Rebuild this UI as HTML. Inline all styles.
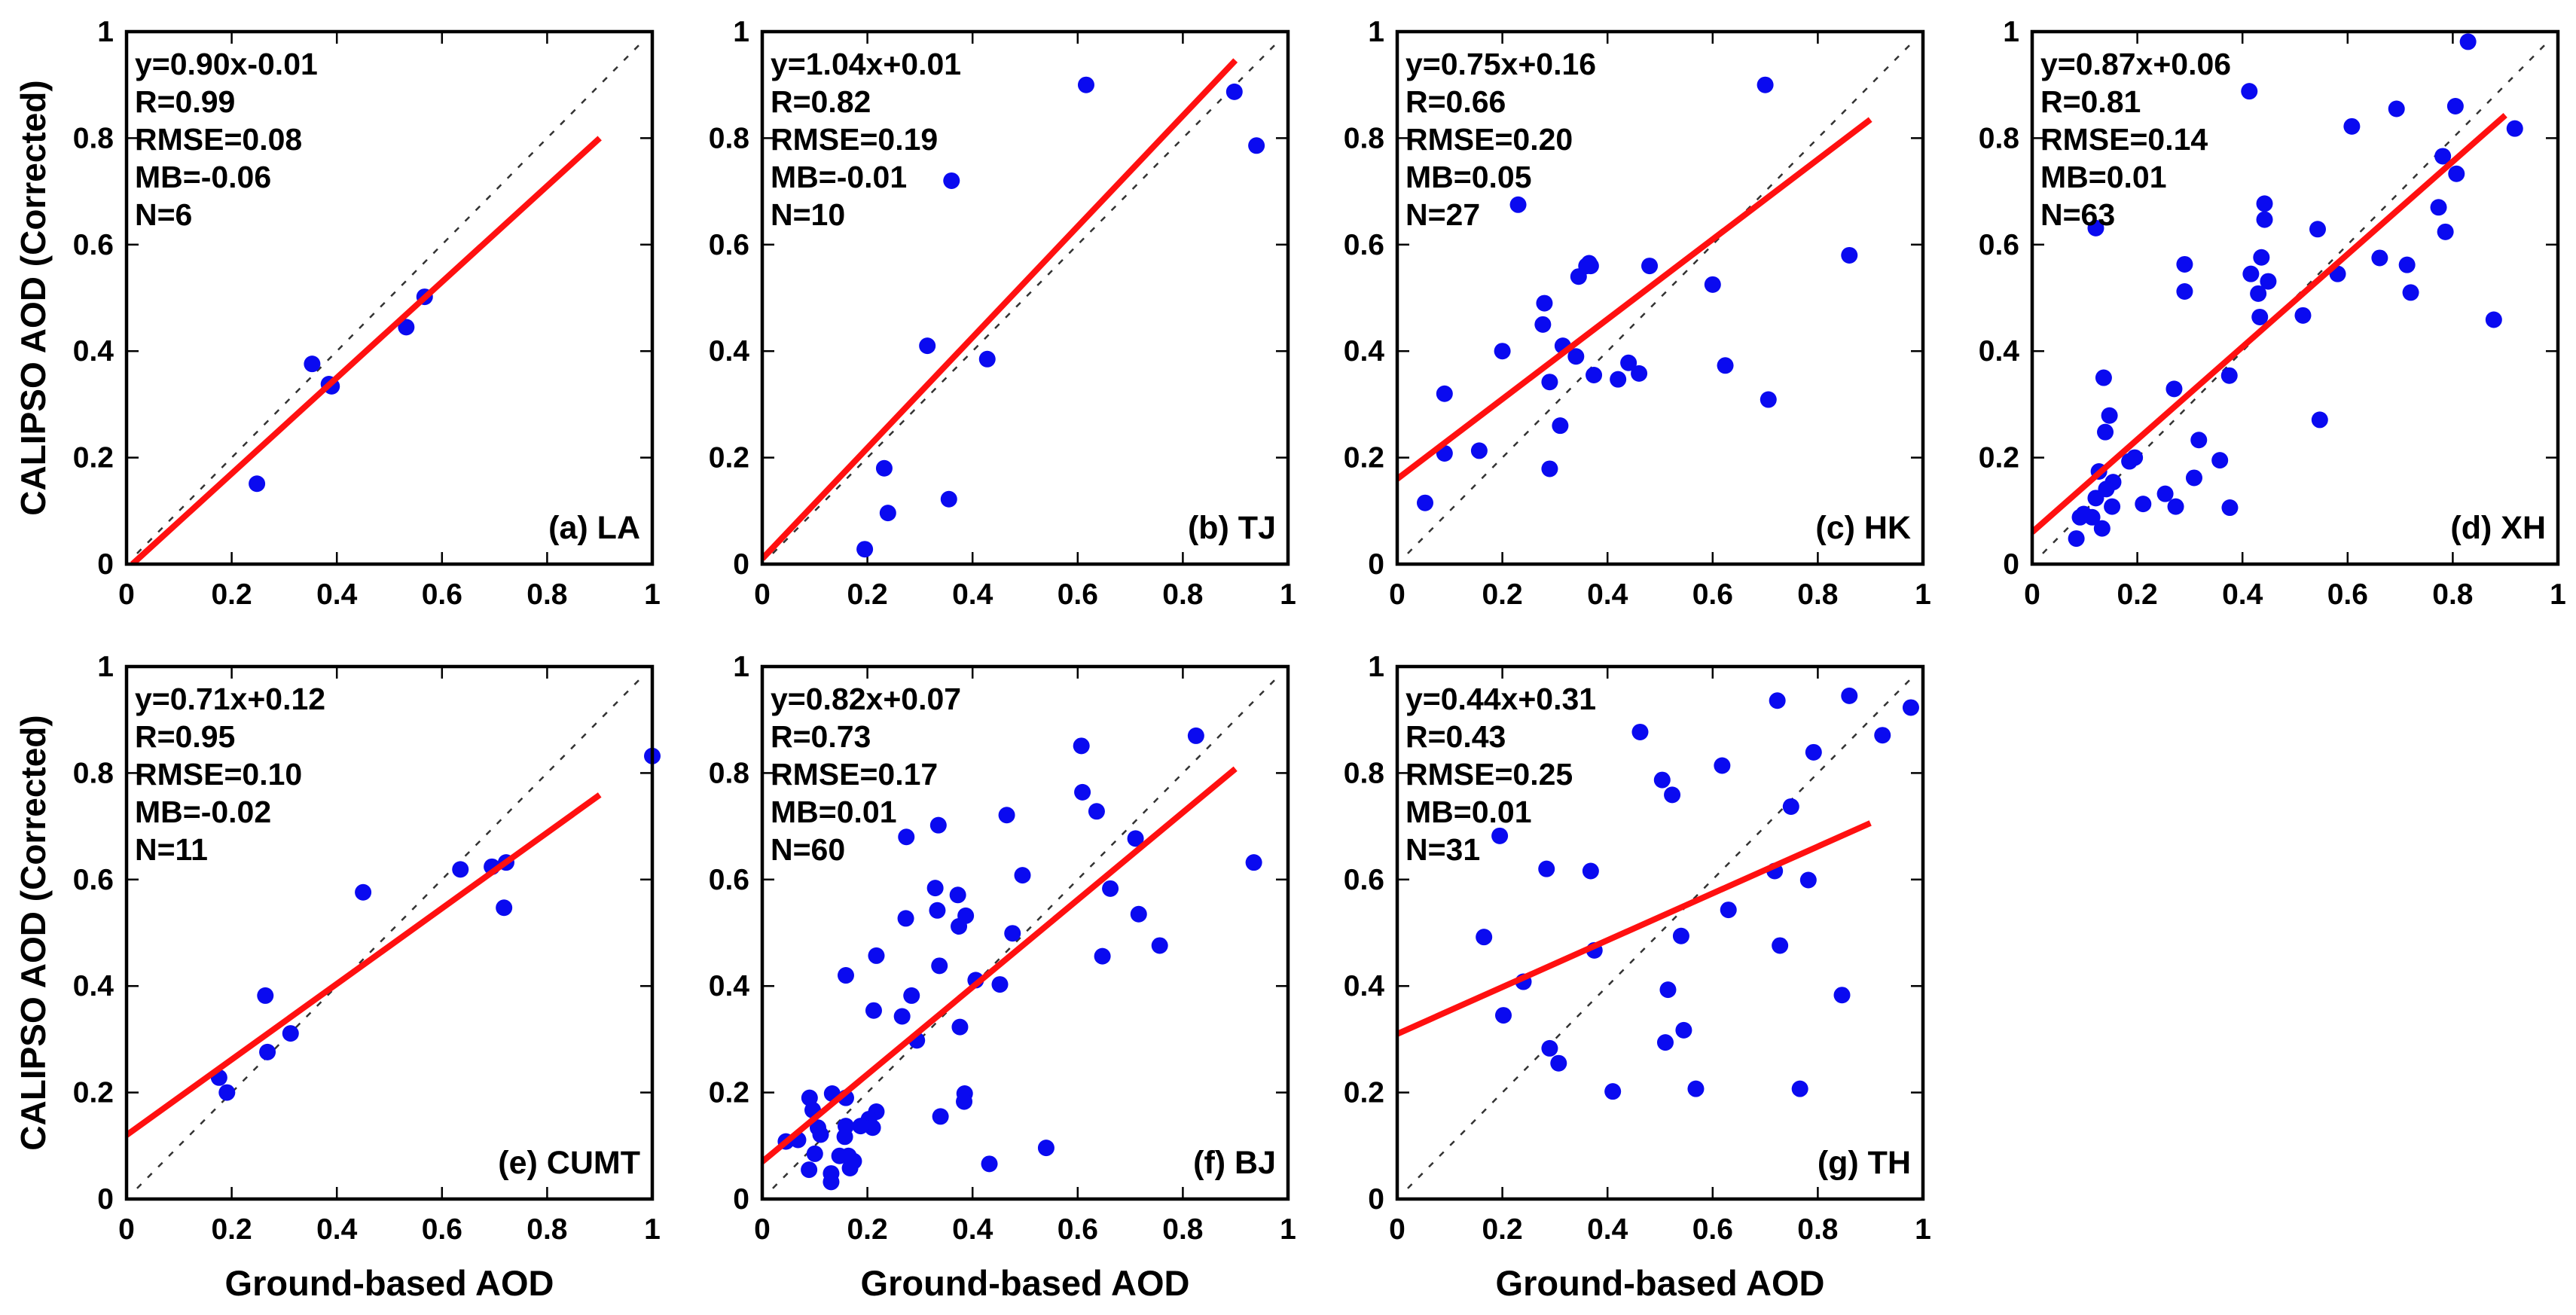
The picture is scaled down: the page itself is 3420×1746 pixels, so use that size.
<!DOCTYPE html>
<html><head><meta charset="utf-8">
<style>
html,body{margin:0;padding:0;background:#fff;}
svg{display:block;font-family:"Liberation Sans",Arial,sans-serif;font-weight:bold;}
</style></head>
<body>
<svg id="fig" width="3420" height="1746" viewBox="0 0 3420 1746" xmlns="http://www.w3.org/2000/svg"></svg>
<script>
// ---- data ----
const panelIds = ["a","b","c","d","e","f","g"];
const panelTitles = ["(a) LA","(b) TJ","(c) HK","(d) XH","(e) CUMT","(f) BJ","(g) TH"];
const fitSlopes = [0.90,1.04,0.75,0.87,0.71,0.82,0.44];
const fitIntercepts = [-0.01,0.01,0.16,0.06,0.12,0.07,0.31];
const statLines = [
 ["y=0.90x-0.01","R=0.99","RMSE=0.08","MB=-0.06","N=6"],
 ["y=1.04x+0.01","R=0.82","RMSE=0.19","MB=-0.01","N=10"],
 ["y=0.75x+0.16","R=0.66","RMSE=0.20","MB=0.05","N=27"],
 ["y=0.87x+0.06","R=0.81","RMSE=0.14","MB=0.01","N=63"],
 ["y=0.71x+0.12","R=0.95","RMSE=0.10","MB=-0.02","N=11"],
 ["y=0.82x+0.07","R=0.73","RMSE=0.17","MB=0.01","N=60"],
 ["y=0.44x+0.31","R=0.43","RMSE=0.25","MB=0.01","N=31"]
];
const tickValues = [0,0.2,0.4,0.6,0.8,1];
const tickLabels = ["0","0.2","0.4","0.6","0.8","1"];
const xA = [0.248,0.353,0.39,0.385,0.532,0.567];
const yA = [0.151,0.376,0.334,0.338,0.445,0.502];
const xB = [0.616,0.898,0.94,0.36,0.314,0.428,0.232,0.355,0.239,0.195];
const yB = [0.90,0.887,0.786,0.72,0.41,0.385,0.18,0.122,0.096,0.028];
const xC = [0.70,0.23,0.86,0.36,0.368,0.345,0.48,0.60,0.28,0.277,0.20,0.315,0.34,0.44,0.46,0.374,0.42,0.624,0.29,0.706,0.09,0.31,0.09,0.156,0.29,0.053,0.365];
const yC = [0.90,0.675,0.58,0.56,0.56,0.54,0.56,0.525,0.49,0.45,0.40,0.41,0.39,0.378,0.358,0.355,0.347,0.373,0.342,0.309,0.32,0.26,0.208,0.213,0.179,0.115,0.565];
const xD = [0.829,0.413,0.693,0.805,0.608,0.918,0.781,0.807,0.773,0.786,0.442,0.442,0.543,0.121,0.29,0.29,0.436,0.416,0.449,0.43,0.433,0.515,0.581,0.661,0.713,0.72,0.878,0.136,0.375,0.27,0.147,0.139,0.547,0.317,0.357,0.185,0.195,0.308,0.127,0.154,0.141,0.121,0.253,0.211,0.273,0.376,0.152,0.091,0.114,0.133,0.084,0.098];
const yD = [0.981,0.888,0.855,0.86,0.822,0.818,0.766,0.733,0.67,0.624,0.677,0.647,0.629,0.631,0.563,0.512,0.576,0.545,0.531,0.508,0.464,0.467,0.545,0.575,0.562,0.51,0.459,0.35,0.354,0.329,0.279,0.248,0.271,0.233,0.195,0.193,0.2,0.162,0.174,0.154,0.141,0.124,0.132,0.113,0.108,0.106,0.108,0.088,0.088,0.067,0.048,0.094];
const xE = [1.0,0.635,0.695,0.722,0.718,0.45,0.264,0.312,0.268,0.176,0.191];
const yE = [0.832,0.619,0.624,0.632,0.547,0.576,0.382,0.311,0.276,0.228,0.2];
const xF = [0.825,0.607,0.609,0.636,0.465,0.335,0.274,0.71,0.935,0.495,0.329,0.372,0.662,0.333,0.387,0.374,0.273,0.716,0.476,0.756,0.647,0.217,0.337,0.159,0.406,0.452,0.284,0.212,0.266,0.376,0.294,0.385,0.384,0.339,0.54,0.432,0.09,0.133,0.159,0.096,0.217,0.203,0.21,0.187,0.159,0.106,0.111,0.157,0.068,0.045,0.1,0.147,0.174,0.164,0.167,0.089,0.131,0.131];
const yF = [0.87,0.851,0.764,0.728,0.721,0.702,0.68,0.677,0.632,0.608,0.584,0.571,0.583,0.542,0.532,0.512,0.527,0.535,0.499,0.476,0.456,0.457,0.438,0.42,0.411,0.403,0.382,0.354,0.343,0.323,0.298,0.198,0.183,0.155,0.096,0.066,0.19,0.198,0.19,0.167,0.164,0.15,0.134,0.137,0.137,0.134,0.121,0.117,0.111,0.108,0.085,0.081,0.071,0.081,0.058,0.055,0.048,0.032];
const xG = [0.723,0.86,0.977,0.923,0.462,0.792,0.618,0.504,0.523,0.749,0.195,0.284,0.368,0.718,0.782,0.63,0.165,0.54,0.375,0.728,0.24,0.515,0.846,0.202,0.545,0.29,0.51,0.307,0.41,0.568,0.766];
const yG = [0.936,0.945,0.923,0.871,0.877,0.839,0.814,0.787,0.759,0.737,0.682,0.62,0.616,0.616,0.599,0.543,0.492,0.494,0.467,0.476,0.408,0.393,0.383,0.345,0.317,0.283,0.294,0.255,0.202,0.207,0.207];
const xSeries = [xA,xB,xC,xD,xE,xF,xG];
const ySeries = [yA,yB,yC,yD,yE,yF,yG];

// ---- layout ----
const NS = "http://www.w3.org/2000/svg";
const svg = document.getElementById("fig");
const lefts = [168,1012,1855,2698,168,1012,1855];
const tops = [42,42,42,42,885,885,885];
const W = 698, H = 707;
function mk(tag, attrs, parent){
  const e = document.createElementNS(NS, tag);
  for (const k in attrs) e.setAttribute(k, attrs[k]);
  (parent||svg).appendChild(e);
  return e;
}
const defs = mk("defs",{});

panelIds.forEach((id,i)=>{
  const L = lefts[i], T = tops[i];
  const sx = v => L + v*W;
  const sy = v => T + H - v*H;
  const g = mk("g",{});
  
  
  const cp = mk("clipPath",{id:"clip"+id}, defs);
  mk("rect",{x:L,y:T,width:W,height:H}, cp);

  tickValues.forEach((t,k)=>{
    if (k>0 && k<tickValues.length-1){
      mk("line",{x1:sx(t),x2:sx(t),y1:T+H,y2:T+H-16,stroke:"#000","stroke-width":2.5}, g);
      mk("line",{x1:sx(t),x2:sx(t),y1:T,y2:T+16,stroke:"#000","stroke-width":2.5}, g);
      mk("line",{x1:L,x2:L+16,y1:sy(t),y2:sy(t),stroke:"#000","stroke-width":2.5}, g);
      mk("line",{x1:L+W,x2:L+W-16,y1:sy(t),y2:sy(t),stroke:"#000","stroke-width":2.5}, g);
    }
    const xl = mk("text",{x:sx(t),y:T+H+53,"font-size":39,"text-anchor":"middle",fill:"#000"}, g);
    xl.textContent = tickLabels[k];
    
    
    const yl = mk("text",{x:L-17,y:sy(t)+13,"font-size":39,"text-anchor":"end",fill:"#000"}, g);
    yl.textContent = tickLabels[k];
    
    
  });

  const d = mk("line",{x1:sx(0.02),y1:sy(0.02),x2:sx(0.98),y2:sy(0.98),stroke:"#333","stroke-width":2.5,"stroke-dasharray":"8 12"}, g);
  
  

  const xs = xSeries[i], ys = ySeries[i];
  xs.forEach((xv,j)=>{
    const c = mk("circle",{cx:sx(xv),cy:sy(ys[j]),r:11,fill:"#0a0af0"}, g);
    
    
  });

  const m = fitSlopes[i], b = fitIntercepts[i];
  let x0 = 0; if (b < 0) x0 = -b/m;
  const f = mk("line",{x1:sx(x0),y1:sy(m*x0+b),x2:sx(0.9),y2:sy(m*0.9+b),stroke:"#ff1010","stroke-width":8,"clip-path":"url(#clip"+id+")"}, g);
  
  

  const fr = mk("rect",{x:L,y:T,width:W,height:H,fill:"none",stroke:"#000","stroke-width":4.5}, g);
  
  

  statLines[i].forEach((s,k)=>{
    const t = mk("text",{x:L+11,y:T+57+k*50,"font-size":41,fill:"#000"}, g);
    t.textContent = s;
    
    
  });
  const pt = mk("text",{x:L+W-16,y:T+H-34,"font-size":43,"text-anchor":"end",fill:"#000"}, g);
  pt.textContent = panelTitles[i];
  
  

  if (i===0 || i===4){
    const cy = T + H/2;
    const yt = mk("text",{x:60,y:cy,"font-size":46,"text-anchor":"middle",transform:"rotate(-90 60 "+cy+")",fill:"#000"}, g);
    yt.textContent = "CALIPSO AOD (Corrected)";
    
    
  }
  if (i>=4){
    const xt = mk("text",{x:L+W/2,y:1720,"font-size":47,"text-anchor":"middle",fill:"#000"}, g);
    xt.textContent = "Ground-based AOD";
    
    
  }
});
</script>
</body></html>
